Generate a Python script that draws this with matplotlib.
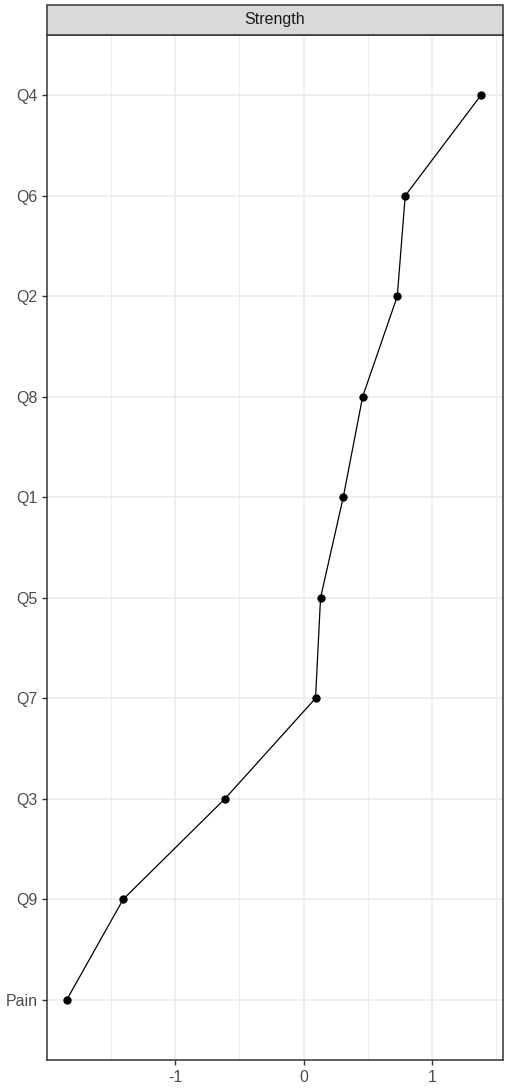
import matplotlib
matplotlib.use("Agg")
import matplotlib.pyplot as plt
from matplotlib.patches import Rectangle

items = ["Pain", "Q9", "Q3", "Q7", "Q5", "Q1", "Q8", "Q2", "Q6", "Q4"]
strength = [-1.846, -1.406, -0.613, 0.093, 0.132, 0.309, 0.460, 0.730, 0.792, 1.382]
xticks = [-1, 0, 1]
panel_title = "Strength"

plt.rcParams['font.family'] = ['Liberation Sans', 'DejaVu Sans']

fig = plt.figure(figsize=(5.1, 10.89), dpi=100)
ax = fig.add_axes([0.0922, 0.0266, 0.8938, 0.9413])

ypos = list(range(1, len(items) + 1))
ax.plot(strength, ypos, color='black', linewidth=0.9, marker='o', markersize=5, zorder=3)

ax.set_xlim(-2.0, 1.553)
ax.set_ylim(0.4, len(items) + 0.6)
ax.set_xticks(xticks)
ax.set_xticklabels([str(t) for t in xticks])
ax.set_xticks([-1.5, -0.5, 0.5, 1.5], minor=True)
ax.set_yticks(ypos)
ax.set_yticklabels(items)

ax.grid(True, which='major', color='#EBEBEB', linewidth=1.1, zorder=0)
ax.grid(True, which='minor', axis='x', color='#EBEBEB', linewidth=0.6, zorder=0)
ax.set_axisbelow(True)

for s in ax.spines.values():
    s.set_color('#333333')
    s.set_linewidth(1.1)

ax.tick_params(axis='both', which='major', colors='#333333', labelcolor='#4D4D4D',
               labelsize=11.5, length=3.5, width=1.0)
ax.tick_params(axis='x', which='minor', length=0)

# facet strip
strip = Rectangle((0.0922, 0.9679), 0.8938, 30 / 1089, transform=fig.transFigure,
                  facecolor='#D9D9D9', edgecolor='#333333', linewidth=1.1)
fig.patches.append(strip)
fig.text(0.0922 + 0.8938 / 2, 0.9679 + 15 / 1089, panel_title, ha='center', va='center',
         fontsize=11.5, color='#1A1A1A')

fig.savefig("out.png", dpi=100)
